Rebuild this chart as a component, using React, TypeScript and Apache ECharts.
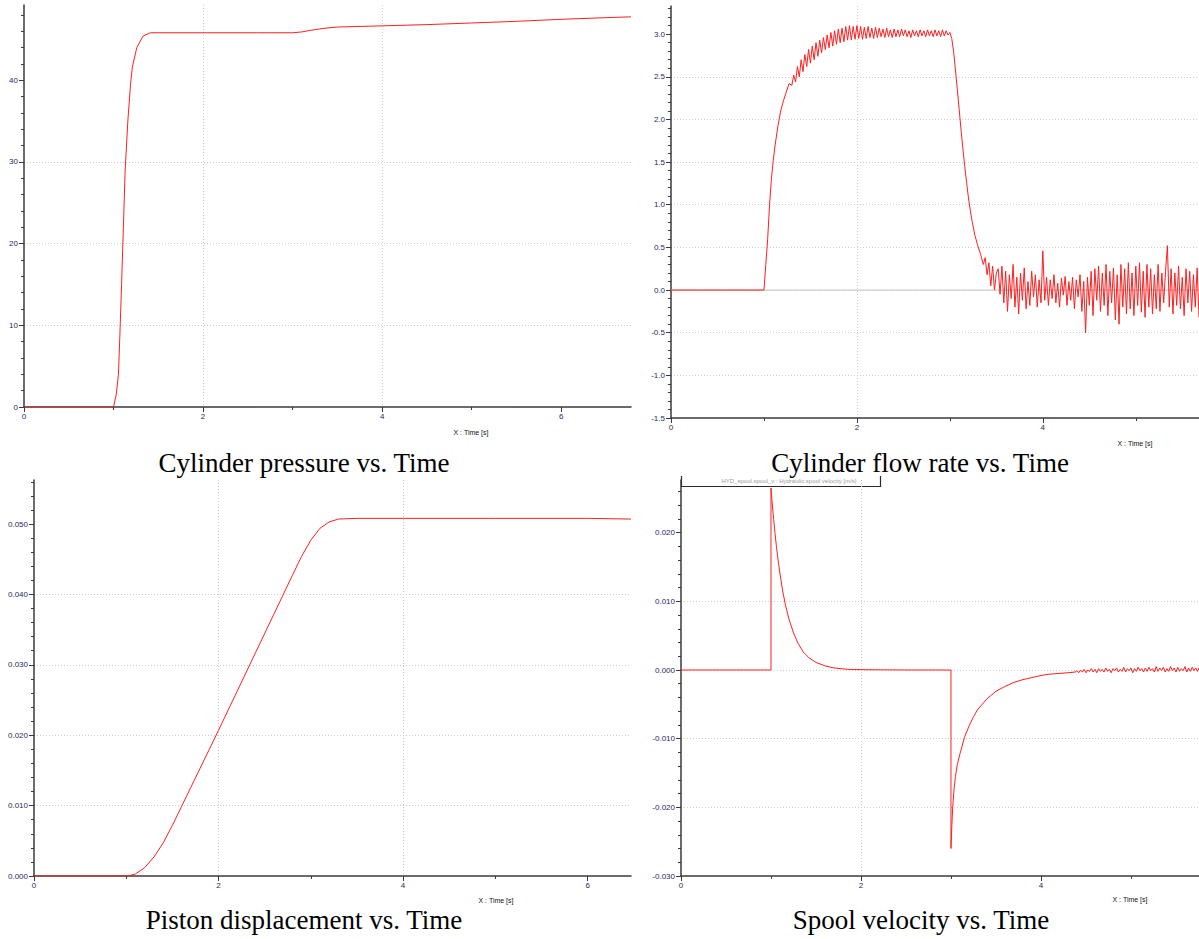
import React, { useEffect, useRef } from "react";
import * as echarts from "echarts";

// ---------- Cylinder pressure (bar) vs time (s) ----------
const pressureTime = [0, 1.0, 1.03, 1.055, 1.07, 1.09, 1.11, 1.13, 1.16, 1.19, 1.21, 1.26, 1.33, 1.41, 2.0, 2.6, 3.0, 3.1, 3.2, 3.35, 3.5, 4.0, 4.5, 5.0, 5.5, 6.0, 6.5, 6.78];
const pressureValue = [0, 0, 1.5, 4, 8.5, 15, 22, 29, 35, 39.5, 41.6, 44, 45.4, 45.8, 45.8, 45.8, 45.8, 45.9, 46.1, 46.35, 46.5, 46.65, 46.8, 47.0, 47.2, 47.45, 47.65, 47.75];

// ---------- Cylinder flow rate vs time ----------
const flowRiseTime = [0, 1.0, 1.02, 1.04, 1.06, 1.08, 1.1, 1.12, 1.15, 1.18, 1.21, 1.24, 1.27];
const flowRiseValue = [0, 0, 0.3, 0.6, 1.0, 1.3, 1.52, 1.7, 1.92, 2.1, 2.22, 2.32, 2.42];
const flowPlateauStart = 1.3;
const flowStep = 0.02;
const flowPlateauValue = [
  2.40, 2.52, 2.44, 2.62, 2.50, 2.70, 2.56, 2.76, 2.62, 2.82, 2.66, 2.86, 2.70, 2.90, 2.74, 2.93, 2.78,
  2.96, 2.82, 2.99, 2.84, 3.02, 2.86, 3.04, 2.88, 3.06, 2.90, 3.07, 2.91, 3.09, 2.93, 3.10, 2.93, 3.09,
  2.94, 3.10, 2.95, 3.09, 2.94, 3.08, 2.95, 3.09, 2.96, 3.07, 2.95, 3.08, 2.96, 3.07, 2.97, 3.06, 2.96,
  3.07, 2.97, 3.05, 2.96, 3.06, 2.97, 3.05, 2.97, 3.06, 2.98, 3.05, 2.97, 3.04, 2.96, 3.05, 2.98, 3.04,
  2.97, 3.05, 2.98, 3.04, 2.97, 3.05, 2.98, 3.04, 2.97, 3.05, 2.98, 3.04, 2.97, 3.05, 2.98, 3.04, 2.99,
];
const flowDropTime = [3.0, 3.02, 3.04, 3.06, 3.08, 3.1, 3.12, 3.14, 3.16, 3.18, 3.2, 3.22, 3.24, 3.27, 3.3, 3.33, 3.36, 3.38, 3.4, 3.42, 3.44, 3.46, 3.48, 3.5];
const flowDropValue = [3.02, 2.95, 2.8, 2.58, 2.35, 2.12, 1.88, 1.66, 1.45, 1.26, 1.08, 0.93, 0.8, 0.64, 0.52, 0.42, 0.3, 0.38, 0.18, 0.32, 0.05, 0.28, 0.0, 0.2];
const flowTailStart = 3.52;
const flowTailValue = [
  0.25, -0.05, 0.28, -0.15, 0.22, -0.25, 0.18, -0.1, 0.3, -0.2, 0.15, -0.28, 0.2, -0.12, 0.26, -0.22,
  0.1, -0.18, 0.22, -0.08, 0.18, -0.2, 0.12, -0.15, 0.46, -0.12, 0.15, -0.18, 0.12, -0.1, 0.18, -0.15,
  0.08, -0.2, 0.14, -0.06, 0.16, -0.18, 0.1, -0.12, 0.15, -0.22, 0.12, -0.08, 0.18, -0.25, 0.1, -0.5,
  0.15, -0.18, 0.22, -0.3, 0.25, -0.12, 0.28, -0.25, 0.2, -0.18, 0.3, -0.3, 0.22, -0.15, 0.26, -0.35,
  0.18, -0.4, 0.3, -0.2, 0.25, -0.28, 0.32, -0.22, 0.2, -0.3, 0.28, -0.18, 0.32, -0.26, 0.22, -0.32,
  0.3, -0.2, 0.25, -0.28, 0.18, -0.22, 0.3, -0.25, 0.2, -0.15, 0.22, 0.52, -0.2, 0.25, -0.28, 0.2,
  -0.18, 0.28, -0.22, 0.15, -0.3, 0.25, -0.15, 0.22, -0.25, 0.18, -0.2, 0.26, -0.32,
];
const flowZeroLine = [0, 5.68];

// ---------- Piston displacement (m) vs time ----------
const pistonTime = [0, 1.0, 1.05, 1.1, 1.2, 1.3, 1.4, 1.5, 1.6, 1.7, 1.8, 1.9, 2.0, 2.2, 2.4, 2.6, 2.8, 2.9, 3.0, 3.1, 3.2, 3.3, 3.5, 4.0, 5.0, 6.0, 6.47];
const pistonValue = [0, 0, 0.0001, 0.0003, 0.0012, 0.0027, 0.0047, 0.0072, 0.0099, 0.0126, 0.0153, 0.018, 0.0207, 0.0262, 0.0317, 0.0372, 0.0427, 0.0454, 0.0477, 0.0494, 0.0503, 0.0507, 0.0508, 0.0508, 0.0508, 0.0508, 0.0507];

// ---------- Spool velocity (m/s) vs time ----------
const spoolTime = [0, 1.0, 1.0, 1.01, 1.02, 1.03, 1.045, 1.06, 1.08, 1.1, 1.13, 1.16, 1.2, 1.25, 1.3, 1.36, 1.42, 1.5, 1.6, 1.7, 1.85, 2.0, 2.3, 2.6, 3.0, 3.0, 3.01, 3.02, 3.035, 3.05, 3.07, 3.1, 3.15, 3.2, 3.25, 3.3, 3.4, 3.5, 3.6, 3.7, 3.8, 3.9, 4.0, 4.1, 4.2, 4.3, 4.38];
const spoolValue = [0, 0, 0.0265, 0.0248, 0.0233, 0.0219, 0.0199, 0.018, 0.0159, 0.014, 0.0115, 0.0095, 0.0074, 0.0054, 0.0039, 0.0026, 0.0018, 0.0011, 0.0006, 0.0003, 0.0001, 0.00005, 0.00002, 0, 0, -0.026, -0.0225, -0.0198, -0.0172, -0.0155, -0.0138, -0.0122, -0.0098, -0.0082, -0.0068, -0.0057, -0.0042, -0.0031, -0.0024, -0.0018, -0.0014, -0.0011, -0.0008, -0.0006, -0.0005, -0.0004, -0.0003];
const spoolTailStart = 4.4;
const spoolStep = 0.02;
const spoolTailValue = [
  -0.0001, -0.0004, 0.0, -0.0003, 0.0001, -0.0004, 0.0, -0.0002, 0.0002, -0.0003, 0.0001, -0.0004, 0.0002,
  -0.0002, 0.0001, -0.0003, 0.0003, -0.0002, 0.0001, -0.0004, 0.0002, -0.0001, 0.0003, -0.0003, 0.0001,
  -0.0002, 0.0004, -0.0003, 0.0002, -0.0001, 0.0003, -0.0004, 0.0002, -0.0002, 0.0004, -0.0001, 0.0002,
  -0.0003, 0.0003, -0.0002, 0.0004, -0.0001, 0.0002, -0.0003, 0.0005, -0.0002, 0.0003, -0.0001, 0.0004,
  -0.0003, 0.0002, -0.0002, 0.0005, -0.0001, 0.0003, -0.0003, 0.0004, -0.0002, 0.0002, -0.0001, 0.0005,
  -0.0003, 0.0003, -0.0002, 0.0004, -0.0001, 0.0003, -0.0002, 0.0004,
];

// ---------- Texts ----------
const captions = ["Cylinder pressure vs. Time", "Cylinder flow rate vs. Time", "Piston displacement vs. Time", "Spool velocity vs. Time"];
const xAxisTitle = "X : Time [s]";
const spoolLegendText = "HYD_spool.spool_v : Hydraulic spool velocity [m/s]";

const zip = (t: number[], v: number[]) => t.map((x, i) => [x, v[i]]);
const sampled = (start: number, step: number, v: number[]) => v.map((y, i) => [+(start + i * step).toFixed(4), y]);

const AXIS_COLOR = "#3a3a3a";
const LABEL = { fontSize: 8, color: "#28285c", fontFamily: "Liberation Sans, Arial, sans-serif" };

function tickList(min: number, max: number, step: number) {
  const out: number[] = [];
  const n = Math.floor((max - min) / step + 1e-6);
  for (let i = 0; i <= n; i++) out.push(+(min + i * step).toFixed(6));
  return out;
}

function axes(kind: "x" | "y", gridIndex: number, min: number, max: number, major: number, minor: number, decimals: number) {
  const majors = tickList(min, max, major);
  const minors = tickList(min, max, minor).filter((v) => !majors.some((m) => Math.abs(m - v) < 1e-9));
  const position = kind === "x" ? "bottom" : "left";
  const main = {
    type: "value",
    gridIndex,
    position,
    min,
    max,
    interval: major,
    axisLine: { show: true, onZero: false, lineStyle: { color: AXIS_COLOR, width: 1.5 } },
    axisTick: { show: true, length: 5, customValues: majors, lineStyle: { color: AXIS_COLOR, width: 1 } },
    axisLabel: {
      show: true,
      customValues: majors,
      margin: kind === "x" ? 5 : 6,
      formatter: (v: number) => Number(v).toFixed(decimals),
      ...LABEL,
    },
    splitLine: { show: true, showMinLine: false, showMaxLine: false, lineStyle: { type: [1, 2], color: "#cccccc", width: 1 } },
  };
  const minorAxis = {
    type: "value",
    gridIndex,
    position,
    min,
    max,
    interval: minor,
    axisLine: { show: false, onZero: false },
    axisTick: { show: true, length: 3, customValues: minors, lineStyle: { color: AXIS_COLOR, width: 1 } },
    axisLabel: { show: false },
    splitLine: { show: false },
  };
  return [main, minorAxis];
}

export default function App() {
  const ref = useRef<HTMLDivElement>(null);
  useEffect(() => {
    if (!ref.current) return;
    const chart = echarts.init(ref.current, undefined, { renderer: "svg" });

    const grids = [
      { left: 24, top: 5, width: 607, height: 402 },
      { left: 671, top: 6, width: 528, height: 412 },
      { left: 34, top: 480, width: 597, height: 396 },
      { left: 681, top: 480, width: 518, height: 396 },
    ];

    const xAxis = [
      ...axes("x", 0, 0, 6.78, 2, 1, 0),
      ...axes("x", 1, 0, 5.68, 2, 1, 0),
      ...axes("x", 2, 0, 6.47, 2, 1, 0),
      ...axes("x", 3, 0, 5.756, 2, 1, 0),
    ];
    const yAxis = [
      ...axes("y", 0, 0, 49.2, 10, 2, 0),
      ...axes("y", 1, -1.5, 3.33, 0.5, 0.1, 1),
      ...axes("y", 2, 0, 0.05625, 0.01, 0.002, 3),
      ...axes("y", 3, -0.03, 0.02767, 0.01, 0.002, 3),
    ];

    const red = { color: "#ff1f1f", width: 1 };
    const base = { type: "line", showSymbol: false, symbol: "none", silent: true, clip: true };

    const flowData = [
      ...zip(flowRiseTime, flowRiseValue),
      ...sampled(flowPlateauStart, flowStep, flowPlateauValue),
      ...zip(flowDropTime, flowDropValue),
      ...sampled(flowTailStart, flowStep, flowTailValue),
    ];
    const spoolData = [...zip(spoolTime, spoolValue), ...sampled(spoolTailStart, spoolStep, spoolTailValue)];

    const series = [
      { ...base, xAxisIndex: 0, yAxisIndex: 0, data: zip(pressureTime, pressureValue), lineStyle: red },
      {
        ...base,
        xAxisIndex: 2,
        yAxisIndex: 2,
        z: 1,
        data: flowZeroLine.map((t) => [t, 0]),
        lineStyle: { color: "#c4c4c4", width: 1 },
      },
      { ...base, xAxisIndex: 2, yAxisIndex: 2, z: 2, data: flowData, lineStyle: red },
      { ...base, xAxisIndex: 4, yAxisIndex: 4, data: zip(pistonTime, pistonValue), lineStyle: red },
      { ...base, xAxisIndex: 6, yAxisIndex: 6, data: spoolData, lineStyle: red },
    ];

    const captionStyle = { fontSize: 27, fontFamily: "Liberation Serif, Times New Roman, serif", fill: "#000", align: "center", verticalAlign: "middle" };
    const nameStyle = { fontSize: 7, fontFamily: "Liberation Sans, Arial, sans-serif", fill: "#111", align: "center", verticalAlign: "middle" };

    const graphic = [
      { type: "text", x: 304, y: 463, style: { text: captions[0], ...captionStyle } },
      { type: "text", x: 920, y: 463, style: { text: captions[1], ...captionStyle } },
      { type: "text", x: 304, y: 920, style: { text: captions[2], ...captionStyle } },
      { type: "text", x: 921, y: 920, style: { text: captions[3], ...captionStyle } },
      { type: "text", x: 471, y: 432, style: { text: xAxisTitle, ...nameStyle } },
      { type: "text", x: 1135, y: 443, style: { text: xAxisTitle, ...nameStyle } },
      { type: "text", x: 496, y: 900, style: { text: xAxisTitle, ...nameStyle } },
      { type: "text", x: 1130, y: 899, style: { text: xAxisTitle, ...nameStyle } },
      {
        type: "polyline",
        shape: { points: [[681.5, 476], [681.5, 486.5], [880.5, 486.5], [880.5, 476]] },
        style: { stroke: "#2a2a2a", fill: "none", lineWidth: 1.2 },
      },
      {
        type: "text",
        x: 789,
        y: 480.5,
        style: { text: spoolLegendText, fontSize: 6, fontFamily: "Liberation Sans, Arial, sans-serif", fill: "#9a9a9a", align: "center", verticalAlign: "middle" },
      },
    ];

    chart.setOption({
      animation: false,
      backgroundColor: "#ffffff",
      grid: grids,
      xAxis,
      yAxis,
      series,
      graphic,
    });
    return () => chart.dispose();
  }, []);

  return <div ref={ref} style={{ position: "absolute", left: 0, top: 0, width: 1199, height: 939 }} />;
}
